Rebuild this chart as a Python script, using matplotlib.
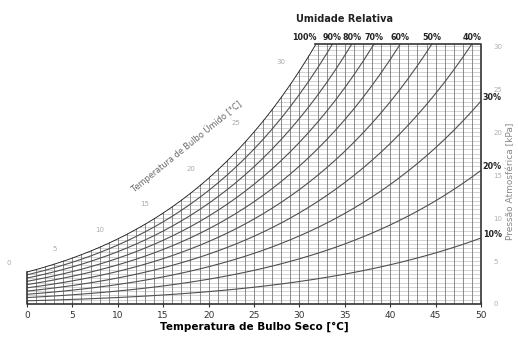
import numpy as np
import matplotlib
matplotlib.use("Agg")
import matplotlib.pyplot as plt
from matplotlib.patches import Polygon
from matplotlib.collections import LineCollection

# Saturation vapour pressure table (kPa) at each integer dry-bulb temperature 0..50 °C
T_table = np.arange(0, 51)
Psat_table = np.array([
    0.6112, 0.6571, 0.7060, 0.7581, 0.8135, 0.8726, 0.9354, 1.0021, 1.0730, 1.1482,
    1.2282, 1.3129, 1.4028, 1.4981, 1.5989, 1.7057, 1.8188, 1.9384, 2.0647, 2.1983,
    2.3393, 2.4882, 2.6453, 2.8111, 2.9858, 3.1699, 3.3639, 3.5681, 3.7831, 4.0092,
    4.2470, 4.4969, 4.7596, 5.0354, 5.3251, 5.6290, 5.9479, 6.2823, 6.6328, 7.0002,
    7.3849, 7.7878, 8.2096, 8.6508, 9.1124, 9.5950, 10.099, 10.627, 11.177, 11.752,
    12.352])
P_atm = 101.325
RH_levels = [10, 20, 30, 40, 50, 60, 70, 80, 90, 100]
RH_top_labels = [100, 90, 80, 70, 60, 50, 40]
RH_right_labels = [30, 20, 10]
wetbulb_labels = [0, 5, 10, 15, 20, 25, 30]
x_ticks = [0, 5, 10, 15, 20, 25, 30, 35, 40, 45, 50]
y_ticks = [0, 5, 10, 15, 20, 25, 30]
W_top = 30.25
W_grid_step = 0.5


def W_of(rh):
    pv = Psat_table * rh / 100.0
    return 622.0 * pv / (P_atm - pv)


Wsat = W_of(100)

fig = plt.figure(figsize=(5.18, 3.40), dpi=100)
ax = fig.add_axes([27 / 518, 36 / 340, 454 / 518, 260 / 340])
ax.set_xlim(0, 50)
ax.set_ylim(0, W_top)
for s in ax.spines.values():
    s.set_visible(False)

# crossing of saturation curve with top line
Tc = np.interp(W_top, Wsat, T_table)
mask = Wsat < W_top
clip_verts = [(0, 0)] + list(zip(T_table[mask], Wsat[mask])) + [(Tc, W_top), (50, W_top), (50, 0)]
clip_poly = Polygon(clip_verts, closed=True, transform=ax.transData, facecolor='none', edgecolor='none')
ax.add_patch(clip_poly)

# horizontal grid
hw = np.arange(W_grid_step, W_top, W_grid_step)
hl = LineCollection([[(0, w), (50, w)] for w in hw], colors='#c0c0c0', linewidths=0.5)
ax.add_collection(hl)
hl.set_clip_path(clip_poly)
# vertical grid
vl = LineCollection([[(t, 0), (t, W_top)] for t in T_table[1:]], colors='#7a7a7a', linewidths=0.6)
ax.add_collection(vl)
vl.set_clip_path(clip_poly)

# RH curves
for rh in RH_levels:
    w = W_of(rh)
    if rh == 100:
        ln, = ax.plot(T_table, w, color='#222222', lw=1.3)
    else:
        ln, = ax.plot(T_table, w, color='#505050', lw=0.8)
    ln.set_clip_path(clip_poly)

# outline
ax.plot([0, 0, 50, 50, Tc], [Wsat[0], 0, 0, W_top, W_top], color='#333333', lw=1.2, clip_on=False)

# ticks
ax.set_xticks(x_ticks)
ax.tick_params(axis='x', direction='inout', length=4, width=0.8, color='#333333',
               labelsize=6.5, labelcolor='#333333', pad=3)
ax.yaxis.tick_right()
ax.set_yticks(y_ticks)
ax.tick_params(axis='y', length=0, labelsize=5, labelcolor='#b0b0b0', pad=9)

ax.set_xlabel('Temperatura de Bulbo Seco [°C]', fontsize=7.5, fontweight='bold', labelpad=1)

# right axis label
fig.text(511 / 518, 1 - 181 / 340, 'Pressão Atmosférica [kPa]', rotation=90, fontsize=6.5,
         color='#888888', ha='center', va='center')

# title and RH labels
ax.text(35, W_top + 2.3, 'Umidade Relativa', fontsize=7, fontweight='bold', ha='center',
        va='bottom', color='#222222')
for rh in RH_top_labels:
    tx = np.interp(W_top, W_of(rh), T_table)
    if rh == 100:
        tx -= 1.2
    ax.text(tx, W_top + 0.2, f'{rh}%', fontsize=5.8, fontweight='bold', ha='center',
            va='bottom', color='#222222')
for rh in RH_right_labels:
    w = W_of(rh)[-1]
    ax.text(50.2, w + 0.4, f'{rh}%', fontsize=5.8, fontweight='bold', ha='left', va='center',
            color='#222222')

# wet bulb labels along saturation curve
for t in wetbulb_labels:
    ax.annotate(str(t), (t, Wsat[t]), xytext=(-13, 6), textcoords='offset points',
                fontsize=5, color='#aaaaaa', ha='center', va='center')
ax.text(17.6, 18.3, 'Temperatura de Bulbo Úmido [°C]', rotation=39, fontsize=5.9,
        color='#666666', ha='center', va='center')

fig.savefig('out.png', dpi=100)
